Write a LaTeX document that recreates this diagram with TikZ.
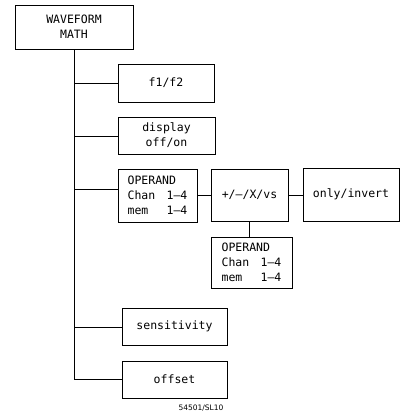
\documentclass[tikz,border=0pt]{standalone}
\usepackage{fontspec}
\newfontfamily\plt{DejaVu Sans Mono}
\newfontfamily\lblfont{DejaVu Sans}
\begin{document}
\begin{tikzpicture}[x=1pt,y=-1pt,
  box/.style={draw, line width=0.8pt, rectangle, inner sep=0pt, align=center,
    font=\plt\fontsize{11.5}{15}\selectfont},
  opbox/.style={box, align=left},
  conn/.style={draw, line width=0.8pt}]
\useasboundingbox (0,0) rectangle (400,414);
\node[box, minimum width=118pt, minimum height=44pt] (wm) at (74,27) {WAVEFORM\\MATH};
\node[box, minimum width=96pt, minimum height=38pt] (f12) at (166,83) {f1/f2};
\node[box, minimum width=97pt, minimum height=37pt] (disp) at (166.5,135.5) {display\\off/on};
\node[opbox, minimum width=79pt, minimum height=53pt] (op1) at (157.5,195.5)
  {OPERAND\\\makebox[39pt][l]{Chan}1–4\\\makebox[39pt][l]{mem}1–4};
\node[box, minimum width=77pt, minimum height=52pt] (pm) at (249.5,195) {+/–/X/vs};
\node[box, minimum width=96pt, minimum height=53pt] (oi) at (351,194.5) {only/invert};
\node[opbox, minimum width=81pt, minimum height=51pt] (op2) at (251.5,262.5)
  {OPERAND\\\makebox[39pt][l]{Chan}1–4\\\makebox[39pt][l]{mem}1–4};
\node[box, minimum width=105pt, minimum height=37pt] (sens) at (174.5,326.5) {sensitivity};
\node[box, minimum width=105pt, minimum height=37pt] (off) at (174.5,379.5) {offset};
\node[font=\lblfont\fontsize{7.5}{9}\selectfont] (lbl) at (201,408) {54501/SL10};
\coordinate (t1) at (74,83);
\coordinate (t2) at (74,136);
\coordinate (t3) at (74,189);
\coordinate (t4) at (74,327);
\coordinate (t5) at (74,379.5);
\draw[conn] (wm.south) -- (t5);
\draw[conn] (t1) -- (t1 -| f12.west);
\draw[conn] (t2) -- (t2 -| disp.west);
\draw[conn] (t3) -- (t3 -| op1.west);
\draw[conn] (t4) -- (t4 -| sens.west);
\draw[conn] (t5) -- (off.west);
\draw[conn] (op1.east) -- (op1.east -| pm.west);
\draw[conn] (pm.east) -- (pm.east -| oi.west);
\draw[conn] (pm.south) -- (pm.south |- op2.north);
\end{tikzpicture}
\end{document}
